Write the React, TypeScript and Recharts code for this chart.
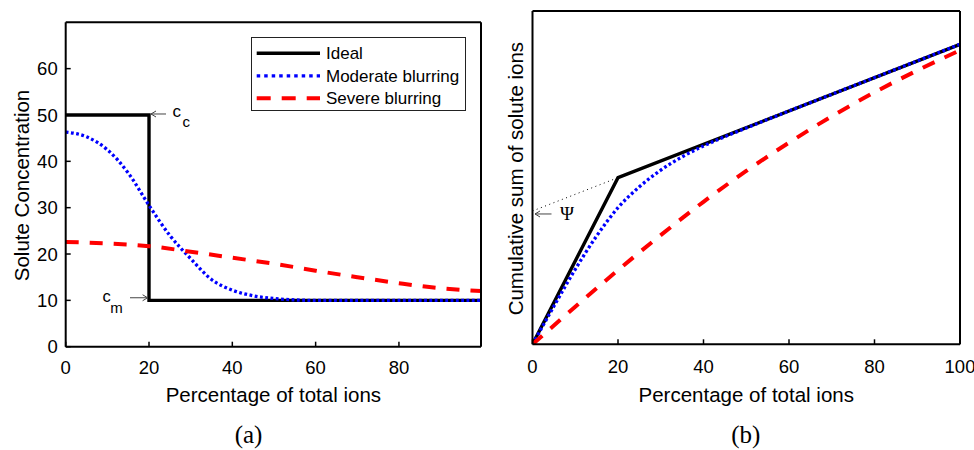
import React from 'react';
import { LineChart, Line, XAxis, YAxis, Legend, ReferenceDot, Label } from 'recharts';

const FONT = '"Liberation Sans", Arial, Helvetica, sans-serif';
const SERIF = '"Liberation Serif", "DejaVu Serif", serif';

// ---------- (a) Solute concentration ----------
const idealConcX = [0, 20, 20, 99.7];
const idealConcY = [50, 50, 10, 10];
const moderateConcX = [0, 5, 10, 15, 20, 25, 30, 35, 40, 45, 50, 55, 60, 80, 99.7];
const moderateConcY = [46.3, 45.3, 42.5, 37.5, 30.5, 24, 19, 14.5, 12.2, 11, 10.4, 10.1, 10, 10, 10];
const severeConcX = [0, 10, 20, 30, 40, 50, 60, 70, 80, 90, 99.7];
const severeConcY = [22.6, 22.3, 21.7, 20.5, 19.2, 17.9, 16.4, 15.0, 13.7, 12.6, 12.0];

// ---------- (b) Cumulative sum ----------
const idealCumX = [0, 20, 100];
const idealCumY = [0, 1000, 1800];
const moderateCumX = [0, 5, 10, 15, 20, 25, 30, 35, 40, 45, 50, 60, 70, 80, 90, 100];
const moderateCumY = [0, 228, 450, 650, 820, 945, 1045, 1125, 1190, 1246, 1298, 1400, 1500, 1600, 1700, 1800];
const severeCumX = [0, 10, 20, 30, 40, 50, 60, 70, 80, 90, 100];
const severeCumY = [0, 225, 445, 655, 855, 1040, 1210, 1368, 1512, 1643, 1764];
const psiX = [0, 20];
const psiY = [800, 1000];

// ---------- ticks / labels ----------
const xTicksA = [0, 20, 40, 60, 80];
const yTicksA = [0, 10, 20, 30, 40, 50, 60];
const xTicksB = [0, 20, 40, 60, 80, 100];
const yTicksB = [0, 500, 1000, 1500, 2000];
const seriesNames = ['Ideal', 'Moderate blurring', 'Severe blurring'];
const xTitle = 'Percentage of total ions';
const yTitleA = 'Solute Concentration';
const yTitleB = 'Cumulative sum of solute ions';

const zip = (xs: number[], ys: number[]) => xs.map((x, i) => ({ x, y: ys[i] }));

const STYLE: Record<string, { stroke: string; width: number; dash?: string; legendDash?: string }> = {
  'Ideal': { stroke: '#000000', width: 3.4 },
  'Moderate blurring': { stroke: '#0000ff', width: 3.3, dash: '2.8 2.5', legendDash: '3.5 4' },
  'Severe blurring': { stroke: '#ff0000', width: 4, dash: '13 11', legendDash: '14 11' },
};

const axisLine = { stroke: '#000', strokeWidth: 2 };
const tickLine = { stroke: '#000', strokeWidth: 1.5 };
const tickFont = { fill: '#000', fontSize: 18.5, fontFamily: FONT };

const LegendBox = (props: any) => {
  const payload = props.payload || [];
  return (
    <svg width={216} height={75} style={{ display: 'block' }}>
      <rect x={0.5} y={0.5} width={214} height={73} fill="#fff" stroke="#222" strokeWidth={1} />
      {payload.map((p: any, i: number) => {
        const st = STYLE[p.value] || { stroke: p.color, width: 3 };
        const cy = 16.3 + i * 22.5;
        return (
          <g key={p.value}>
            <line x1={5.7} x2={69} y1={cy} y2={cy} stroke={st.stroke} strokeWidth={st.width} strokeDasharray={st.legendDash} />
            <text x={75} y={cy + 6} fontSize={17} fontFamily={FONT} fill="#000">{p.value}</text>
          </g>
        );
      })}
    </svg>
  );
};

const arrowStroke = '#444';

const CcMarker = (props: any) => {
  const { cx, cy } = props;
  if (cx == null || cy == null) return null;
  const y = cy - 1;
  return (
    <g>
      <line x1={cx + 2} y1={y} x2={cx + 17} y2={y} stroke={arrowStroke} strokeWidth={1} />
      <path d={`M${cx + 7},${y - 3} L${cx + 2},${y} L${cx + 7},${y + 3}`} fill="none" stroke={arrowStroke} strokeWidth={1} />
      <text x={cx + 23.5} y={cy + 2.5} fontSize={17} fontFamily={FONT} fill="#000">c</text>
      <text x={cx + 33.5} y={cy + 12.5} fontSize={15} fontFamily={FONT} fill="#000">c</text>
    </g>
  );
};

const CmMarker = (props: any) => {
  const { cx, cy } = props;
  if (cx == null || cy == null) return null;
  const y = cy - 2.6;
  return (
    <g>
      <line x1={cx - 19} y1={y} x2={cx - 1.4} y2={y} stroke={arrowStroke} strokeWidth={1} />
      <path d={`M${cx - 6.4},${y - 3} L${cx - 1.4},${y} L${cx - 6.4},${y + 3}`} fill="none" stroke={arrowStroke} strokeWidth={1} />
      <text x={cx - 46.4} y={cy + 1.7} fontSize={16.5} fontFamily={FONT} fill="#000">c</text>
      <text x={cx - 38.7} y={cy + 12.7} fontSize={15} fontFamily={FONT} fill="#000">m</text>
    </g>
  );
};

const PsiMarker = (props: any) => {
  const { cx, cy } = props;
  if (cx == null || cy == null) return null;
  const y = cy + 3;
  return (
    <g>
      <line x1={cx + 2.5} y1={y} x2={cx + 19} y2={y} stroke={arrowStroke} strokeWidth={1} />
      <path d={`M${cx + 7.5},${y - 3} L${cx + 2.5},${y} L${cx + 7.5},${y + 3}`} fill="none" stroke={arrowStroke} strokeWidth={1} />
      <text x={cx + 27.5} y={cy + 9} fontSize={19} fontFamily={SERIF} fill="#000">Ψ</text>
    </g>
  );
};

const xLabel = (baselineOffset: number) => (p: any) => {
  const vb = p.viewBox || {};
  return (
    <text x={vb.x + vb.width / 2} y={vb.y + baselineOffset} textAnchor="middle" fontSize={20.5} fontFamily={FONT} fill="#000">
      {xTitle}
    </text>
  );
};

const yLabel = (text: string, gap: number) => (p: any) => {
  const vb = p.viewBox || {};
  const cx = vb.x + vb.width - gap;
  const cy = vb.y + vb.height / 2 + 1;
  return (
    <text x={cx} y={cy} transform={`rotate(-90, ${cx}, ${cy})`} textAnchor="middle" fontSize={20.5} fontFamily={FONT} fill="#000">
      {text}
    </text>
  );
};

const renderSeries = (data: { x: number; y: number }[][], types: ('linear' | 'monotone')[]) =>
  seriesNames.map((name, i) => {
    const st = STYLE[name];
    return (
      <Line
        key={name}
        name={name}
        data={data[i]}
        dataKey="y"
        type={types[i]}
        stroke={st.stroke}
        strokeWidth={st.width}
        strokeDasharray={st.dash}
        strokeLinejoin="miter"
        dot={false}
        activeDot={false}
        isAnimationActive={false}
      />
    );
  });

const ChartA = () => (
  <LineChart width={490} height={450} margin={{ top: 21.3, right: 8, bottom: 63.3, left: 15.7 }}>
    <XAxis
      xAxisId={0}
      type="number"
      dataKey="x"
      domain={[0, 99.7]}
      allowDataOverflow
      ticks={xTicksA}
      interval={0}
      height={40}
      tickSize={-5}
      tickMargin={19.3}
      axisLine={axisLine}
      tickLine={tickLine}
      tick={tickFont}
    >
      <Label content={xLabel(55)} />
    </XAxis>
    <XAxis
      xAxisId="top"
      orientation="top"
      type="number"
      dataKey="x"
      domain={[0, 99.7]}
      allowDataOverflow
      ticks={xTicksA}
      interval={0}
      height={1}
      tickSize={-5}
      axisLine={axisLine}
      tickLine={tickLine}
      tick={false}
    />
    <YAxis
      yAxisId={0}
      type="number"
      domain={[0, 70]}
      allowDataOverflow
      ticks={yTicksA}
      interval={0}
      width={50}
      tickSize={-5}
      tickMargin={13}
      axisLine={axisLine}
      tickLine={tickLine}
      tick={tickFont}
    >
      <Label content={yLabel(yTitleA, 36.4)} />
    </YAxis>
    <YAxis
      yAxisId="right"
      orientation="right"
      type="number"
      domain={[0, 70]}
      allowDataOverflow
      ticks={yTicksA}
      interval={0}
      width={1}
      tickSize={-5}
      axisLine={axisLine}
      tickLine={tickLine}
      tick={false}
    />
    {renderSeries(
      [zip(idealConcX, idealConcY), zip(moderateConcX, moderateConcY), zip(severeConcX, severeConcY)],
      ['linear', 'monotone', 'monotone']
    )}
    <ReferenceDot x={20} y={50} r={1} shape={CcMarker} />
    <ReferenceDot x={20} y={10} r={1} shape={CmMarker} />
    <Legend
      layout="vertical"
      align="center"
      verticalAlign="middle"
      content={LegendBox}
      wrapperStyle={{ left: 251, top: 37, width: 216, height: 75 }}
    />
  </LineChart>
);

const ChartB = () => (
  <LineChart width={484} height={450} margin={{ top: 10, right: 13, bottom: 65.7, left: 2.5 }}>
    <XAxis
      xAxisId={0}
      type="number"
      dataKey="x"
      domain={[0, 100]}
      allowDataOverflow
      ticks={xTicksB}
      interval={0}
      height={40}
      tickSize={-5}
      tickMargin={20.7}
      axisLine={axisLine}
      tickLine={tickLine}
      tick={tickFont}
    >
      <Label content={xLabel(57.4)} />
    </XAxis>
    <XAxis
      xAxisId="top"
      orientation="top"
      type="number"
      dataKey="x"
      domain={[0, 100]}
      allowDataOverflow
      ticks={xTicksB}
      interval={0}
      height={1}
      tickSize={-5}
      axisLine={axisLine}
      tickLine={tickLine}
      tick={false}
    />
    <YAxis
      yAxisId={0}
      type="number"
      domain={[0, 2000]}
      allowDataOverflow
      ticks={yTicksB}
      interval={0}
      width={40}
      tickSize={-5}
      axisLine={axisLine}
      tickLine={tickLine}
      tick={false}
    >
      <Label content={yLabel(yTitleB, 9.2)} />
    </YAxis>
    <YAxis
      yAxisId="right"
      orientation="right"
      type="number"
      domain={[0, 2000]}
      allowDataOverflow
      ticks={yTicksB}
      interval={0}
      width={1}
      tickSize={-5}
      axisLine={axisLine}
      tickLine={tickLine}
      tick={false}
    />
    <Line
      name="psi"
      data={zip(psiX, psiY)}
      dataKey="y"
      type="linear"
      stroke="#000"
      strokeWidth={1}
      strokeDasharray="1 3.5"
      dot={false}
      activeDot={false}
      legendType="none"
      isAnimationActive={false}
    />
    {renderSeries(
      [zip(idealCumX, idealCumY), zip(moderateCumX, moderateCumY), zip(severeCumX, severeCumY)],
      ['linear', 'monotone', 'monotone']
    )}
    <ReferenceDot x={0} y={800} r={1} shape={PsiMarker} />
  </LineChart>
);

export default function App() {
  return (
    <div style={{ position: 'absolute', left: 0, top: 0, width: 974, height: 450, background: '#fff', overflow: 'hidden' }}>
      <div style={{ position: 'absolute', left: 0, top: 0 }}>
        <ChartA />
      </div>
      <div style={{ position: 'absolute', left: 490, top: 0 }}>
        <ChartB />
      </div>
      <svg width={974} height={450} style={{ position: 'absolute', left: 0, top: 0, pointerEvents: 'none' }}>
        <text x={248.5} y={443} textAnchor="middle" fontSize={25} fontFamily={SERIF} fill="#000">(a)</text>
        <text x={745.8} y={443} textAnchor="middle" fontSize={25} fontFamily={SERIF} fill="#000">(b)</text>
      </svg>
    </div>
  );
}
